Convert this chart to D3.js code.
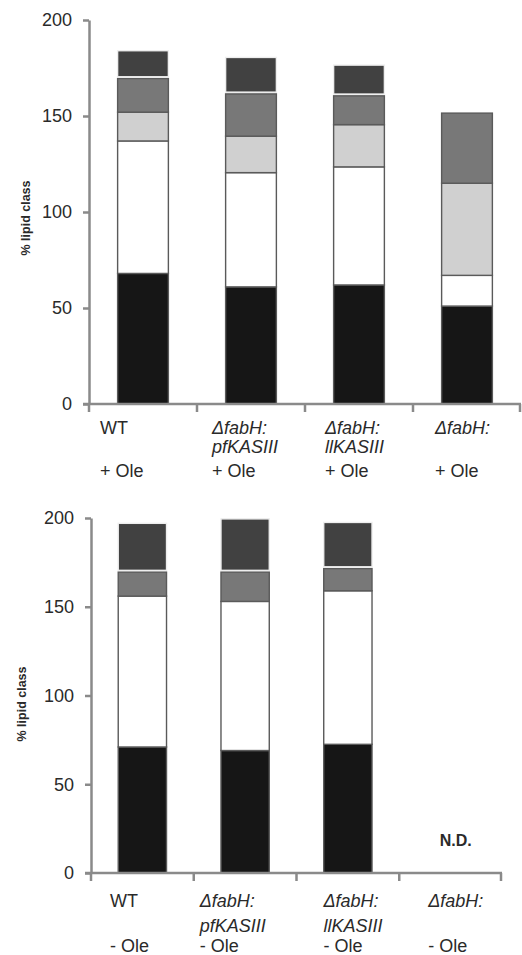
<!DOCTYPE html>
<html>
<head>
<meta charset="utf-8">
<script src="https://cdn.jsdelivr.net/npm/d3@7"></script>
<style>
  body { margin: 0; background: #fff; }
  text { font-family: "Liberation Sans", Arial, sans-serif; fill: #2a2a2a; }
</style>
</head>
<body>
<div id="chart"></div>
<script>
// categories + lipid class keys (stack order bottom -> top)
const categories = ["WT", "fabH:pfKASIII", "fabH:llKASIII", "fabH"];
const classKeys = ["c1", "c2", "c3", "c4", "c5"];

// + Ole panel, % lipid class per class
const oleValues = [
  [68, 69, 15, 17.5, 14.5],
  [61, 59.5, 19, 22, 19],
  [62, 61.5, 22, 15, 16],
  [51, 16, 48, 36.5, 0]
];
// - Ole panel (last strain not determined)
const noOleValues = [
  [71, 85, 0, 13.5, 27.5],
  [69, 84, 0, 16.5, 30],
  [72.5, 86.5, 0, 12.5, 26],
  null
];

const yTicks = [0, 50, 100, 150, 200];
const topLabels = [["WT", "", "+ Ole"], ["\u0394fabH:", "pfKASIII", "+ Ole"], ["\u0394fabH:", "llKASIII", "+ Ole"], ["\u0394fabH:", "", "+ Ole"]];
const bottomLabels = [["WT", "", "- Ole"], ["\u0394fabH:", "pfKASIII", "- Ole"], ["\u0394fabH:", "llKASIII", "- Ole"], ["\u0394fabH:", "", "- Ole"]];

const fills = { c1: "#161616", c2: "#ffffff", c3: "#d0d0d0", c4: "#787878", c5: "#414141" };

const width = 522, height = 955;

const svg = d3.select("#chart").append("svg")
    .attr("width", width)
    .attr("height", height);

// panel layouts (pixel boxes)
const panels = [
  { values: oleValues, labels: topLabels, x0: 89, x1: 521, yTop: 20, yBot: 404,
    labelDx: [11, 15, 20, 22], lineDy: [30, 49, 73], titleX: 30, titleY: 218 },
  { values: noOleValues, labels: bottomLabels, x0: 91, x1: 502, yTop: 518, yBot: 873,
    labelDx: [19, 6, 27, 29], lineDy: [34, 59, 79], titleX: 26, titleY: 704 }
];

panels.forEach(p => {
  const g = svg.append("g");

  const x = d3.scaleBand()
      .domain(categories)
      .range([p.x0, p.x1])
      .paddingInner(0.53)
      .paddingOuter(0.265);

  const y = d3.scaleLinear()
      .domain([0, 200])
      .range([p.yBot, p.yTop]);

  const rows = categories.map((c, i) => {
    const row = { cat: c, nd: p.values[i] === null };
    classKeys.forEach((k, j) => row[k] = p.values[i] ? p.values[i][j] : 0);
    return row;
  });

  const series = d3.stack().keys(classKeys)(rows);

  series.forEach(s => {
    const isTop = s.key === "c5";
    g.append("g")
      .selectAll("rect")
      .data(s.filter(d => !d.data.nd && d[1] - d[0] > 0))
      .enter().append("rect")
      .attr("x", d => x(d.data.cat))
      .attr("width", x.bandwidth())
      .attr("y", d => y(d[1]))
      .attr("height", d => Math.max(0, y(d[0]) - y(d[1]) - (isTop ? 1.8 : 0)))
      .attr("fill", fills[s.key])
      .attr("stroke", isTop ? "#eeeeee" : "#5a5a5a")
      .attr("stroke-width", 1.4);
  });

  // y axis
  const yAxis = g.append("g")
      .attr("transform", `translate(${p.x0},0)`)
      .call(d3.axisLeft(y).tickValues(yTicks).tickSize(6).tickSizeOuter(0).tickPadding(11));
  yAxis.select(".domain").attr("stroke", "#8a8a8a").attr("stroke-width", 2.5);
  yAxis.selectAll(".tick line").attr("stroke", "#8a8a8a").attr("stroke-width", 2.5);
  yAxis.selectAll(".tick text")
      .style("font-size", "18px")
      .style("font-family", "'Liberation Sans', Arial, sans-serif")
      .attr("fill", "#2a2a2a");

  // x axis line with ticks at band boundaries
  g.append("line")
      .attr("x1", p.x0 - 6).attr("x2", p.x1)
      .attr("y1", p.yBot).attr("y2", p.yBot)
      .attr("stroke", "#8a8a8a").attr("stroke-width", 2.5);
  const bounds = d3.range(categories.length + 1).map(i => p.x0 + i * x.step());
  g.selectAll(".xtick")
      .data(bounds)
      .enter().append("line")
      .attr("class", "xtick")
      .attr("x1", d => Math.min(d, p.x1 - 1)).attr("x2", d => Math.min(d, p.x1 - 1))
      .attr("y1", p.yBot).attr("y2", p.yBot + 8)
      .attr("stroke", "#8a8a8a").attr("stroke-width", 2.5);

  // category labels
  categories.forEach((c, i) => {
    p.labels[i].forEach((line, li) => {
      if (!line) return;
      g.append("text")
        .attr("x", x(c) - x.step() * x.paddingInner() / 2 + p.labelDx[i])
        .attr("y", p.yBot + p.lineDy[li])
        .style("font-size", "18px")
        .style("font-style", (li < 2 && line !== "WT") ? "italic" : "normal")
        .text(line);
    });
  });

  // N.D. marker
  rows.filter(r => r.nd).forEach(r => {
    g.append("text")
      .attr("x", x(r.cat) + x.bandwidth() / 2 + 5)
      .attr("y", y(15))
      .attr("text-anchor", "middle")
      .style("font-size", "16px")
      .style("font-weight", "bold")
      .text("N.D.");
  });

  // y axis title
  g.append("text")
      .attr("transform", `translate(${p.titleX},${p.titleY}) rotate(-90)`)
      .attr("text-anchor", "middle")
      .style("font-size", "12.5px")
      .style("font-weight", "bold")
      .text("% lipid class");
});
</script>
</body>
</html>
